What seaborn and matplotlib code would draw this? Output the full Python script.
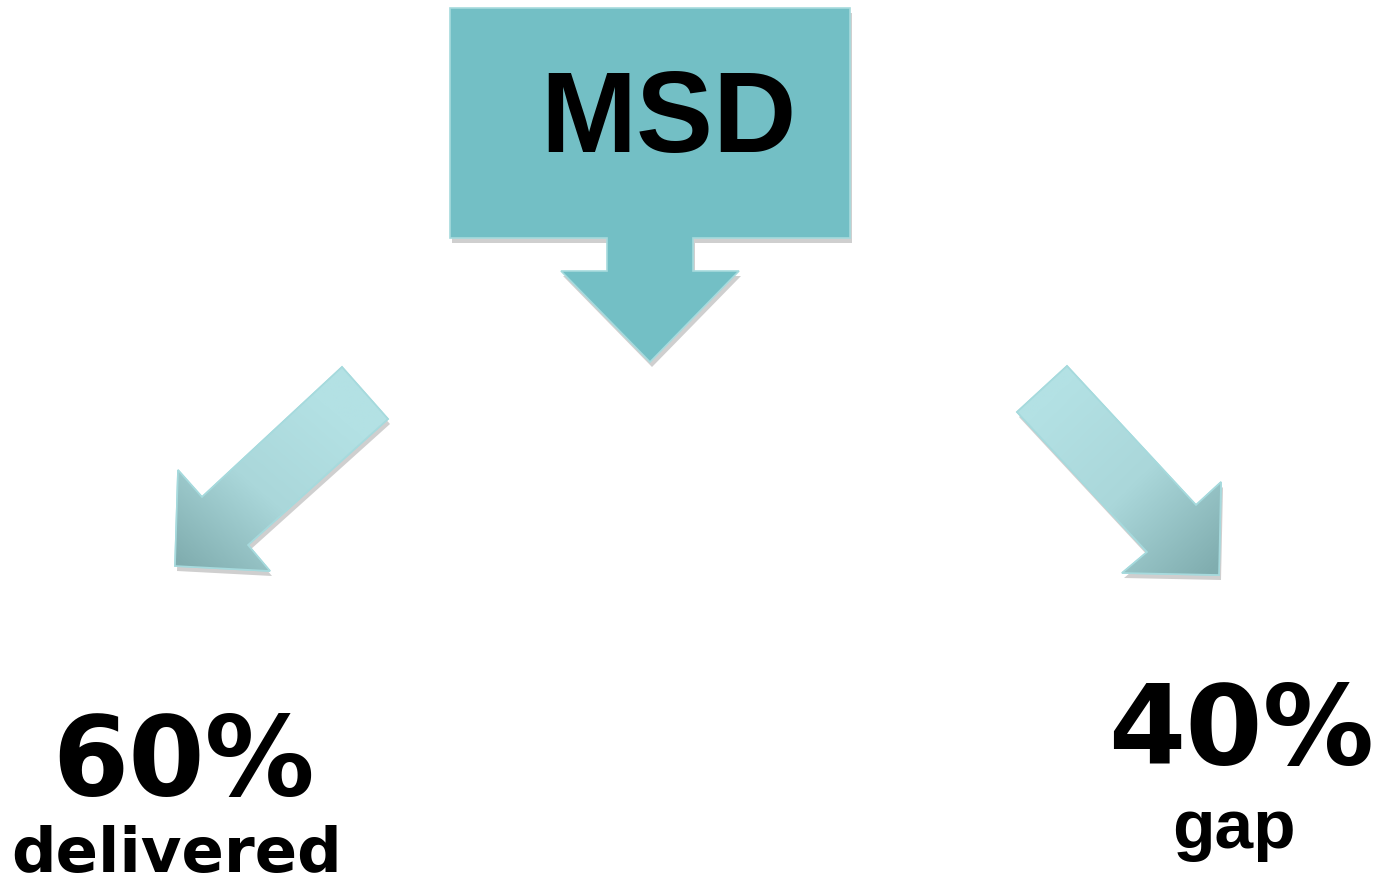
import numpy as np
import matplotlib
matplotlib.use("Agg")
import matplotlib.pyplot as plt
from matplotlib.patches import Polygon
from matplotlib.colors import LinearSegmentedColormap
import seaborn as sns

# Content of the diagram
source_label = "MSD"
shares = [60, 40]                     # percent
outcomes = ["delivered", "gap"]

sns.set_theme(style="white")
plt.rcParams["font.family"] = ["DejaVu Sans"]

W, H = 1383, 886
fig = plt.figure(figsize=(W / 100, H / 100), dpi=100)
ax = fig.add_axes([0, 0, 1, 1])
ax.set_xlim(0, W)
ax.set_ylim(H, 0)
ax.axis("off")

TEAL = "#73bfc5"
EDGE = "#a6dadd"
SHADOW = "#cfcfcf"


def shadowed(points, face, offset=(2, 5), **kw):
    pts = np.asarray(points, dtype=float)
    ax.add_patch(Polygon(pts + np.array(offset), closed=True,
                         facecolor=SHADOW, edgecolor="none", zorder=1))
    poly = Polygon(pts, closed=True, facecolor=face, edgecolor=EDGE,
                   linewidth=1.2, zorder=2, **kw)
    ax.add_patch(poly)
    return poly


def gradient_arrow(points, start, end):
    """Arrow shape filled with a light-to-dark teal gradient from start to end."""
    pts = np.asarray(points, dtype=float)
    poly = shadowed(pts, "none")
    x0, y0 = pts.min(axis=0) - 2
    x1, y1 = pts.max(axis=0) + 2
    xs = np.linspace(x0, x1, 200)
    ys = np.linspace(y0, y1, 200)
    X, Y = np.meshgrid(xs, ys)
    d = np.array(end, float) - np.array(start, float)
    t = ((X - start[0]) * d[0] + (Y - start[1]) * d[1]) / (d @ d)
    t = np.clip(t, 0, 1)
    cmap = LinearSegmentedColormap.from_list("arrow", ["#b3e1e4", "#aad7da", "#80adaf"])
    im = ax.imshow(t, cmap=cmap, extent=(x0, x1, y1, y0), origin="upper",
                   interpolation="bilinear", zorder=2, vmin=0, vmax=1, aspect="auto")
    im.set_clip_path(poly)
    ax.add_patch(Polygon(pts, closed=True, facecolor="none", edgecolor=EDGE,
                         linewidth=1.2, zorder=3))


# Source box with a downward arrow
box = [(450, 8), (850, 8), (850, 238), (693, 238), (693, 271), (739, 271),
       (650, 362), (561, 271), (607, 271), (607, 238), (450, 238)]
shadowed(box, TEAL)

# Branch arrows
left_arrow = [(342, 367), (388, 419), (248, 545), (270, 571), (175, 566),
              (178, 470), (202, 497)]
right_arrow = [(1017, 412), (1067, 366), (1196, 505), (1221, 482), (1219, 575),
               (1122, 573), (1147, 552)]
gradient_arrow(left_arrow, (320, 400), (180, 565))
gradient_arrow(right_arrow, (1050, 400), (1215, 570))
ax.set_xlim(0, W)
ax.set_ylim(H, 0)

# Labels
ax.text(668, 152, source_label, ha="center", va="baseline", fontsize=83,
        fontweight="bold", family="Liberation Sans", color="black", zorder=5)

ax.text(184, 795, f"{shares[0]}%", ha="center", va="baseline", fontsize=79,
        fontweight="bold", family="DejaVu Sans", color="black", zorder=5)
ax.text(177, 885, outcomes[0], ha="center", va="bottom", fontsize=45,
        fontweight="bold", family="DejaVu Sans", color="black", zorder=5)

ax.text(1241, 764, f"{shares[1]}%", ha="center", va="baseline", fontsize=80,
        fontweight="bold", family="DejaVu Sans", color="black", zorder=5)
ax.text(1234, 848, outcomes[1], ha="center", va="baseline", fontsize=50,
        fontweight="bold", family="Liberation Sans", color="black", zorder=5)

fig.savefig("out.png", dpi=100, facecolor="white")
